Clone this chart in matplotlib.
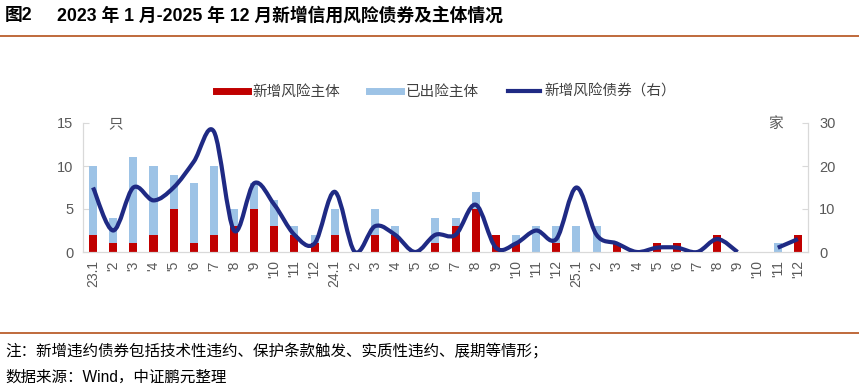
import matplotlib
matplotlib.use("Agg")
import matplotlib.pyplot as plt
import numpy as np
from matplotlib.path import Path
from matplotlib.patches import PathPatch
from matplotlib.lines import Line2D

plt.rcParams['font.family'] = ['Liberation Sans', 'Noto Sans CJK SC', 'DejaVu Sans']

months = ["23.1", "'2", "'3", "'4", "'5", "'6", "'7", "'8", "'9", "'10", "'11", "'12",
          "24.1", "'2", "'3", "'4", "'5", "'6", "'7", "'8", "'9", "'10", "'11", "'12",
          "25.1", "'2", "'3", "'4", "'5", "'6", "'7", "'8", "'9", "'10", "'11", "'12"]
new_entities = [2, 1, 1, 2, 5, 1, 2, 3, 5, 3, 2, 1,
                2, 0, 2, 2, 0, 1, 3, 5, 2, 1, 0, 1,
                0, 0, 1, 0, 1, 1, 0, 2, 0, 0, 0, 2]
total_entities = [10, 4, 11, 10, 9, 8, 10, 5, 8, 6, 3, 2,
                  5, 0, 5, 3, 0, 4, 4, 7, 2, 2, 3, 3,
                  3, 3, 1, 0, 1, 1, 0, 2, 0, 0, 1, 2]
new_bonds = [15, 5, 15, 12, 15, 21, 28, 5, 16, 11, 4, 2,
             14, 0, 6, 4, 0, 4, 4, 11, 1, 2, 5, 3,
             15, 4, 2, 0, 1, 1, 0, 3, 0, np.nan, 1, 3]

RED = '#C00000'
BLUE = '#9DC3E6'
NAVY = '#1F2A84'
GREY = '#595959'
SPINE = '#D9D9D9'
BROWN = '#B4501A'

W, H = 859, 391
fig = plt.figure(figsize=(W / 100, H / 100), dpi=100)
ax = fig.add_axes([83 / W, (H - 252) / H, (808 - 83) / W, (252 - 123) / H])
ax2 = ax.twinx()

x = np.arange(len(months))
red = np.array(new_entities, dtype=float)
tot = np.array(total_entities, dtype=float)
ax.bar(x, red, width=0.4, color=RED, zorder=2)
ax.bar(x, tot - red, bottom=red, width=0.4, color=BLUE, zorder=2)


def smooth_path(xs, ys):
    n = len(xs)
    verts = [(xs[0], ys[0])]
    codes = [Path.MOVETO]
    for i in range(n - 1):
        p_prev = (xs[max(i - 1, 0)], ys[max(i - 1, 0)])
        p0 = (xs[i], ys[i])
        p1 = (xs[i + 1], ys[i + 1])
        p_next = (xs[min(i + 2, n - 1)], ys[min(i + 2, n - 1)])
        c1 = (p0[0] + (p1[0] - p_prev[0]) / 6, p0[1] + (p1[1] - p_prev[1]) / 6)
        c2 = (p1[0] - (p_next[0] - p0[0]) / 6, p1[1] - (p_next[1] - p0[1]) / 6)
        verts += [c1, c2, p1]
        codes += [Path.CURVE4] * 3
    return Path(verts, codes)


bonds = np.array(new_bonds, dtype=float)
valid = ~np.isnan(bonds)
start = None
for i in range(len(bonds) + 1):
    ok = i < len(bonds) and valid[i]
    if ok and start is None:
        start = i
    elif not ok and start is not None:
        seg = slice(start, i)
        p = smooth_path(x[seg].astype(float), bonds[seg])
        ax2.add_patch(PathPatch(p, facecolor='none', edgecolor=NAVY, lw=3,
                                capstyle='butt', joinstyle='round', zorder=3))
        start = None

ax.set_xlim(-0.5, len(months) - 0.5)
ax.set_ylim(0, 15)
ax2.set_ylim(0, 30)
ax.set_yticks([0, 5, 10, 15])
ax2.set_yticks([0, 10, 20, 30])
ax.set_xticks(x)
ax.set_xticklabels(months, rotation=90, fontsize=10, color=GREY)
ax.tick_params(axis='x', length=0, pad=6)
ax.tick_params(axis='y', direction='in', length=4, color=SPINE, labelsize=10.5,
               labelcolor=GREY, pad=7)
ax2.tick_params(axis='y', direction='in', length=4, color=SPINE, labelsize=10.5,
                labelcolor=GREY, pad=8)
for a in (ax, ax2):
    a.spines['top'].set_visible(False)
    a.spines['left'].set_color(SPINE)
    a.spines['right'].set_color(SPINE)
    a.spines['bottom'].set_color(SPINE)
    a.set_facecolor('none')
ax2.set_zorder(ax.get_zorder() + 1)

ax.text(0.045, 0.99, '只', transform=ax.transAxes, fontsize=10.5, color=GREY,
        ha='center', va='center')
ax2.text(0.955, 0.99, '家', transform=ax.transAxes, fontsize=10.5, color=GREY,
         ha='center', va='center')

handles = [Line2D([], [], color=RED, lw=5),
           Line2D([], [], color=BLUE, lw=5),
           Line2D([], [], color=NAVY, lw=3)]
labels = ['新增风险主体', '已出险主体', '新增风险债券（右）']
fig.legend(handles, labels, loc='center', bbox_to_anchor=(446 / W, 1 - 92 / H),
           ncol=3, frameon=False, fontsize=10.5, handlelength=2.2,
           handletextpad=0.3, columnspacing=2.0, labelcolor='#404040')

fig.text(5 / W, 1 - 16 / H, '图2', fontsize=12.8, fontweight='bold',
         ha='left', va='center', color='black')
fig.text(57 / W, 1 - 16 / H, '2023 年 1 月-2025 年 12 月新增信用风险债券及主体情况',
         fontsize=12.8, fontweight='bold', ha='left', va='center', color='black')
fig.add_artist(Line2D([0, 1], [1 - 36 / H, 1 - 36 / H], color=BROWN, lw=1.2,
                      transform=fig.transFigure))
fig.add_artist(Line2D([0, 1], [1 - 333 / H, 1 - 333 / H], color=BROWN, lw=1.2,
                      transform=fig.transFigure))
fig.text(5 / W, 1 - 351 / H, '注：新增违约债券包括技术性违约、保护条款触发、实质性违约、展期等情形；',
         fontsize=11.2, ha='left', va='center', color='black')
fig.text(5 / W, 1 - 377 / H, '数据来源：Wind，中证鹏元整理',
         fontsize=11.2, ha='left', va='center', color='black')

fig.savefig('out.png', dpi=100)
